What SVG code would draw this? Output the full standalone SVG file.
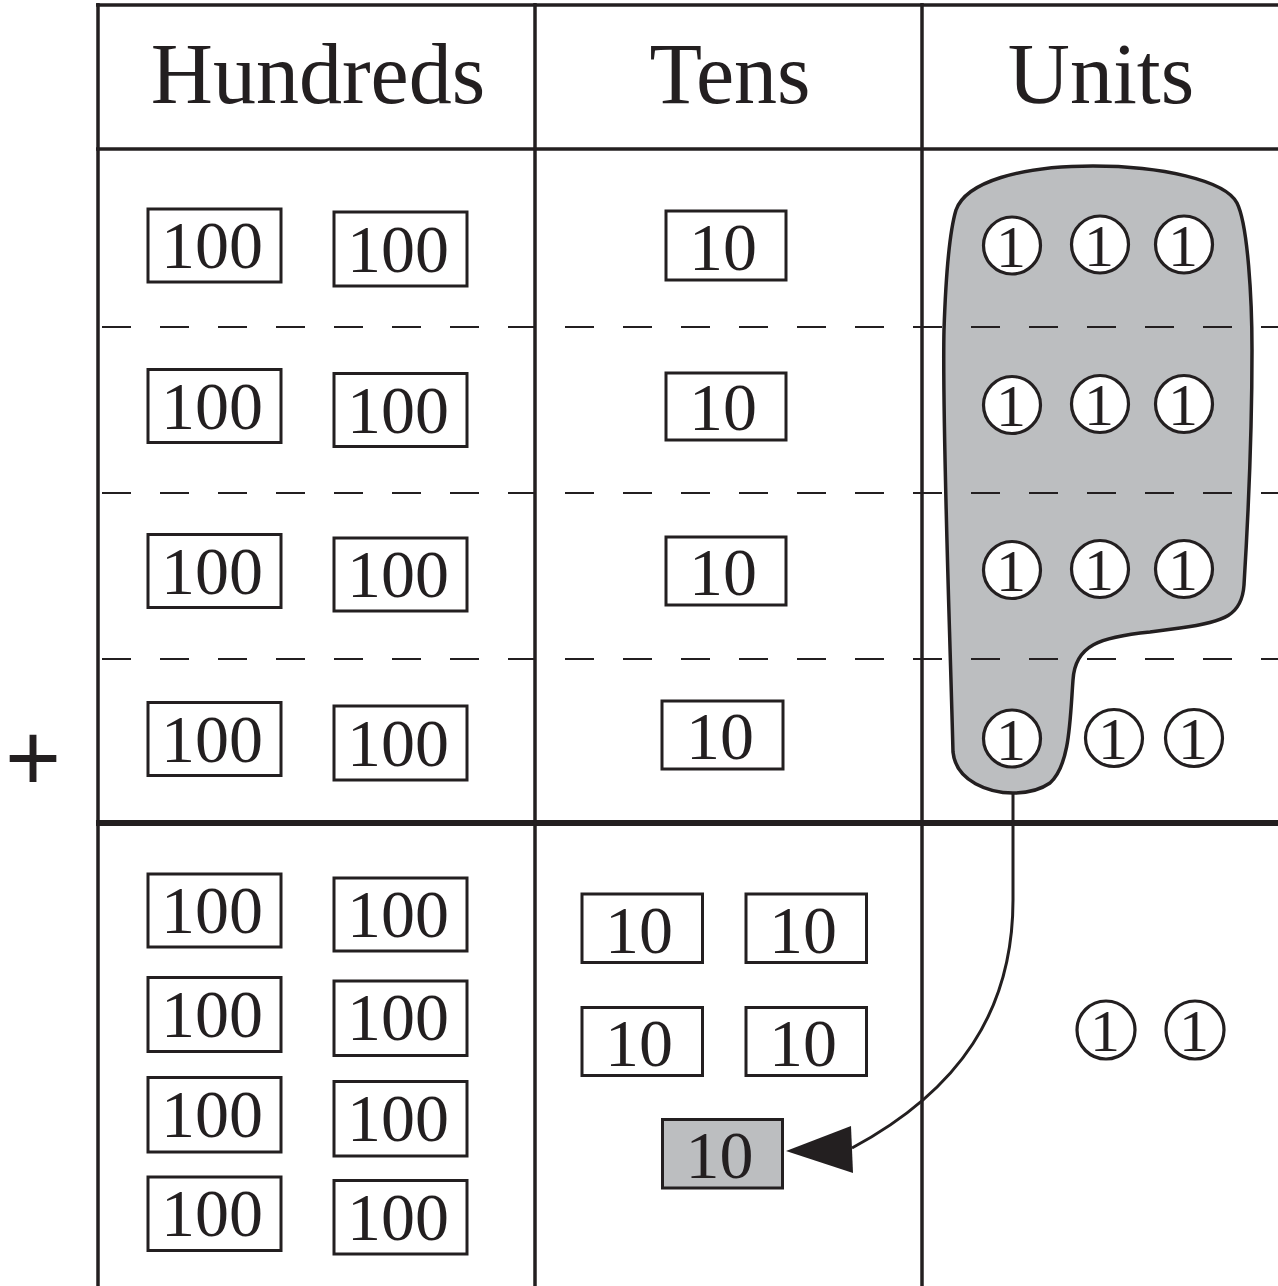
<svg xmlns="http://www.w3.org/2000/svg" width="1278" height="1286" viewBox="0 0 1278 1286">
<style>
.grid{stroke:#231f20;stroke-width:3.5;fill:none}
.thick{stroke:#231f20;stroke-width:6;fill:none}
.dash{stroke:#231f20;stroke-width:2;stroke-dasharray:29 29;fill:none}
.box{fill:#fff;stroke:#231f20;stroke-width:3}
.gbox{fill:#bcbec0;stroke:#231f20;stroke-width:3}
.coin{fill:#fff;stroke:#231f20;stroke-width:3.2}
.hd{font-family:"Liberation Serif","Times New Roman",serif;font-size:86px;fill:#231f20;text-anchor:middle}
.num{font-family:"Liberation Serif","Times New Roman",serif;font-size:68px;fill:#231f20;text-anchor:middle}
.one{font-family:"Liberation Serif","Times New Roman",serif;font-size:60px;fill:#231f20;text-anchor:middle}
.plus{font-family:"Liberation Sans",Arial,sans-serif;font-size:96px;fill:#231f20;text-anchor:middle}
.blob{fill:#bcbec0;stroke:#231f20;stroke-width:3.5}
.conn{fill:none;stroke:#231f20;stroke-width:3}
</style>
<rect width="1278" height="1286" fill="#fff"/>

<g id="blob-group">
<path class="blob" d="M1013,793 C990,793 956,782 953,752 C949,600 942,420 944,330 C946,270 950,230 956,210 C966,182 1020,166 1093,166 C1160,166 1225,180 1237,203 C1248,225 1252,300 1252,350 C1252,420 1248,520 1244,585 C1242,615 1225,622 1180,628 L1150,632 C1100,637 1075,645 1073,680 C1070,720 1070,765 1050,783 C1040,790 1025,793 1013,793 Z"/>
</g>

<g id="table">
<line class="grid" x1="96" y1="5" x2="1278" y2="5"/>
<line class="grid" x1="96" y1="149" x2="1278" y2="149"/>
<line class="thick" x1="96" y1="823" x2="1278" y2="823"/>
<line class="grid" x1="98" y1="3" x2="98" y2="1286"/>
<line class="grid" x1="535" y1="3" x2="535" y2="1286"/>
<line class="grid" x1="922" y1="3" x2="922" y2="1286"/>
<line class="dash" x1="102" y1="327" x2="535" y2="327"/>
<line class="dash" x1="565" y1="327" x2="1278" y2="327"/>
<line class="dash" x1="102" y1="493" x2="535" y2="493"/>
<line class="dash" x1="565" y1="493" x2="1278" y2="493"/>
<line class="dash" x1="102" y1="659" x2="535" y2="659"/>
<line class="dash" x1="565" y1="659" x2="1278" y2="659"/>
</g>

<g id="headers">
<text class="hd" x="318" y="103">Hundreds</text>
<text class="hd" x="730" y="103">Tens</text>
<text class="hd" x="1101" y="103">Units</text>
</g>

<g id="plus"><text class="plus" x="33" y="791">+</text></g>

<g id="hundreds-top">
<g id="h1a"><rect class="box" x="148" y="209" width="133" height="73"/><text class="num" x="212" y="268">100</text></g>
<g id="h1b"><rect class="box" x="334" y="212" width="133" height="74"/><text class="num" x="398" y="271.5">100</text></g>
<g id="h2a"><rect class="box" x="148" y="369.5" width="133" height="73"/><text class="num" x="212" y="428.5">100</text></g>
<g id="h2b"><rect class="box" x="334" y="373.5" width="133" height="73"/><text class="num" x="398" y="432.5">100</text></g>
<g id="h3a"><rect class="box" x="148" y="534.5" width="133" height="73"/><text class="num" x="212" y="593.5">100</text></g>
<g id="h3b"><rect class="box" x="334" y="538" width="133" height="73"/><text class="num" x="398" y="597">100</text></g>
<g id="h4a"><rect class="box" x="148" y="702.5" width="133" height="73"/><text class="num" x="212" y="761.5">100</text></g>
<g id="h4b"><rect class="box" x="334" y="706" width="133" height="74"/><text class="num" x="398" y="765.5">100</text></g>
</g>

<g id="tens-top">
<g id="t1"><rect class="box" x="666" y="211" width="120" height="69"/><text class="num" x="723" y="269.5">10</text></g>
<g id="t2"><rect class="box" x="666" y="373" width="120" height="67"/><text class="num" x="723" y="430">10</text></g>
<g id="t3"><rect class="box" x="666" y="537" width="120" height="68"/><text class="num" x="723" y="595">10</text></g>
<g id="t4"><rect class="box" x="662" y="701" width="121" height="68"/><text class="num" x="720" y="759">10</text></g>
</g>

<g id="units-top">
<g id="u1a"><circle class="coin" cx="1012" cy="245.5" r="28.5"/><text class="one" x="1011" y="266.5">1</text></g>
<g id="u1b"><circle class="coin" cx="1100" cy="244.5" r="28.5"/><text class="one" x="1099" y="265.5">1</text></g>
<g id="u1c"><circle class="coin" cx="1184" cy="244.5" r="28.5"/><text class="one" x="1183" y="265.5">1</text></g>
<g id="u2a"><circle class="coin" cx="1012" cy="405" r="28.5"/><text class="one" x="1011" y="426">1</text></g>
<g id="u2b"><circle class="coin" cx="1100" cy="404" r="28.5"/><text class="one" x="1099" y="425">1</text></g>
<g id="u2c"><circle class="coin" cx="1184" cy="404" r="28.5"/><text class="one" x="1183" y="425">1</text></g>
<g id="u3a"><circle class="coin" cx="1012" cy="570" r="28.5"/><text class="one" x="1011" y="591">1</text></g>
<g id="u3b"><circle class="coin" cx="1100" cy="569" r="28.5"/><text class="one" x="1099" y="590">1</text></g>
<g id="u3c"><circle class="coin" cx="1184" cy="569" r="28.5"/><text class="one" x="1183" y="590">1</text></g>
<g id="u4a"><circle class="coin" cx="1012" cy="738.5" r="28.5"/><text class="one" x="1011" y="759.5">1</text></g>
<g id="u4b"><circle class="coin" cx="1114" cy="738" r="28.5"/><text class="one" x="1113" y="759">1</text></g>
<g id="u4c"><circle class="coin" cx="1194" cy="738" r="28.5"/><text class="one" x="1193" y="759">1</text></g>
</g>

<g id="hundreds-bottom">
<g id="hb1a"><rect class="box" x="148" y="874" width="133" height="73"/><text class="num" x="212" y="933">100</text></g>
<g id="hb1b"><rect class="box" x="334" y="878" width="133" height="73"/><text class="num" x="398" y="937">100</text></g>
<g id="hb2a"><rect class="box" x="148" y="977.5" width="133" height="74"/><text class="num" x="212" y="1036.5">100</text></g>
<g id="hb2b"><rect class="box" x="334" y="981" width="133" height="74.5"/><text class="num" x="398" y="1040">100</text></g>
<g id="hb3a"><rect class="box" x="148" y="1077.5" width="133" height="74.5"/><text class="num" x="212" y="1136.5">100</text></g>
<g id="hb3b"><rect class="box" x="334" y="1081.5" width="133" height="74.5"/><text class="num" x="398" y="1140.5">100</text></g>
<g id="hb4a"><rect class="box" x="148" y="1177" width="133" height="73.5"/><text class="num" x="212" y="1236">100</text></g>
<g id="hb4b"><rect class="box" x="334" y="1180.5" width="133" height="73.5"/><text class="num" x="398" y="1239.5">100</text></g>
</g>

<g id="tens-bottom">
<g id="tb1a"><rect class="box" x="582" y="894" width="120.5" height="68.5"/><text class="num" x="639" y="952.5">10</text></g>
<g id="tb1b"><rect class="box" x="746" y="894" width="120.5" height="68.5"/><text class="num" x="803" y="952.5">10</text></g>
<g id="tb2a"><rect class="box" x="582" y="1007.5" width="120.5" height="68"/><text class="num" x="639" y="1066">10</text></g>
<g id="tb2b"><rect class="box" x="746" y="1007.5" width="120.5" height="68"/><text class="num" x="803" y="1066">10</text></g>
<g id="tb-new"><rect class="gbox" x="662.5" y="1119.5" width="120" height="68.5"/><text class="num" x="719.5" y="1178">10</text></g>
</g>

<g id="units-bottom">
<g id="ub1"><circle class="coin" cx="1106" cy="1030" r="29"/><text class="one" x="1105" y="1051">1</text></g>
<g id="ub2"><circle class="coin" cx="1195" cy="1030" r="29"/><text class="one" x="1194" y="1051">1</text></g>
</g>

<g id="connectors">
<path class="conn" d="M1013,794 L1013,900 C1013,1010 960,1090 852,1148"/>
<polygon points="786,1151 851,1126 853,1173" fill="#231f20"/>
</g>
</svg>
